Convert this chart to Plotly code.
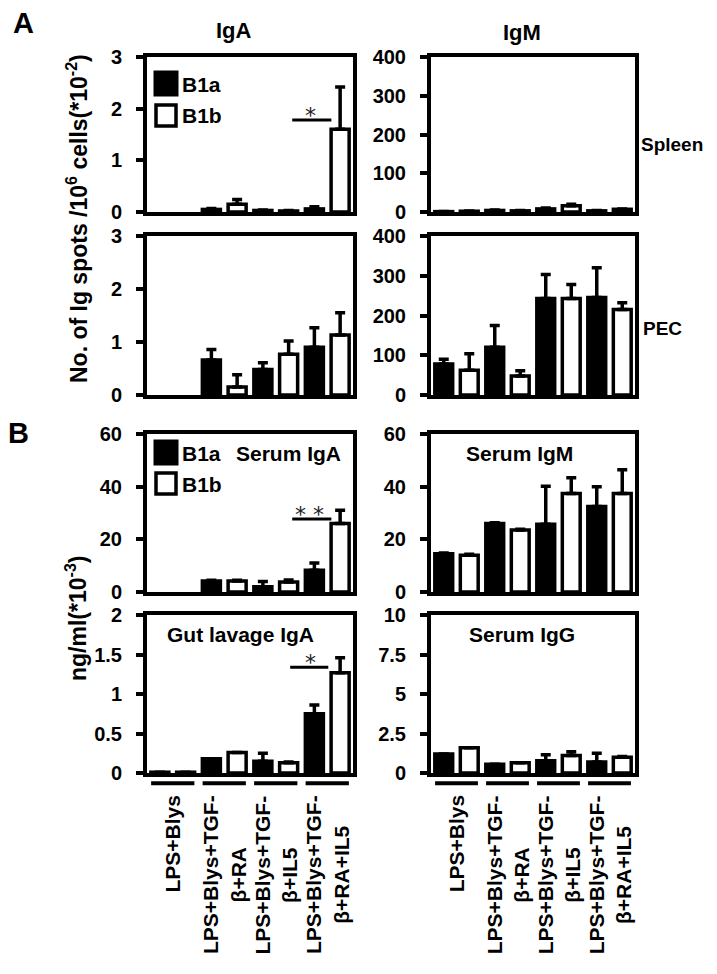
import plotly.graph_objects as go

# The page places the figure 8 px from the top-left corner of the window,
# so the figure is sized to fit inside the 717x974 window.
OFF = 8
W, H = 717 - 2 * OFF, 974 - 2 * OFF

# ---------------- data ----------------
groups = ["LPS+Blys", "LPS+Blys+TGF-<br>β+RA", "LPS+Blys+TGF-<br>β+IL5", "LPS+Blys+TGF-<br>β+RA+IL5"]

iga_spleen_b1a = [None, 0.05, 0.03, 0.06]
iga_spleen_b1a_err = [0, 0.02, 0.01, 0.04]
iga_spleen_b1b = [None, 0.15, 0.02, 1.6]
iga_spleen_b1b_err = [0, 0.09, 0.01, 0.82]

igm_spleen_b1a = [1, 4, 8, 3]
igm_spleen_b1a_err = [0.5, 1, 2, 1]
igm_spleen_b1b = [2, 3, 16, 7]
igm_spleen_b1b_err = [0.5, 1, 4, 1]

iga_pec_b1a = [None, 0.66, 0.48, 0.9]
iga_pec_b1a_err = [0, 0.2, 0.13, 0.37]
iga_pec_b1b = [None, 0.15, 0.77, 1.13]
iga_pec_b1b_err = [0, 0.23, 0.25, 0.42]

igm_pec_b1a = [78, 120, 243, 245]
igm_pec_b1a_err = [12, 55, 60, 75]
igm_pec_b1b = [62, 48, 243, 215]
igm_pec_b1b_err = [42, 13, 35, 17]

serum_iga_b1a = [None, 4.2, 2.0, 8.3]
serum_iga_b1a_err = [0, 0.3, 2.0, 2.7]
serum_iga_b1b = [None, 4.2, 3.8, 26]
serum_iga_b1b_err = [0, 0.3, 0.8, 5]

serum_igm_b1a = [14.5, 26, 25.7, 32.5]
serum_igm_b1a_err = [0.3, 0.3, 14.5, 7.5]
serum_igm_b1b = [14, 23.5, 37.4, 37.4]
serum_igm_b1b_err = [0.3, 0.3, 6, 9]

gut_iga_b1a = [0.01, 0.18, 0.15, 0.75]
gut_iga_b1a_err = [0, 0, 0.1, 0.11]
gut_iga_b1b = [0.01, 0.26, 0.13, 1.27]
gut_iga_b1b_err = [0, 0, 0.01, 0.19]

serum_igg_b1a = [1.2, 0.55, 0.78, 0.7]
serum_igg_b1a_err = [0, 0, 0.37, 0.55]
serum_igg_b1b = [1.6, 0.65, 1.1, 1.0]
serum_igg_b1b_err = [0, 0, 0.25, 0.05]

iga_ticks = [0, 1, 2, 3]
igm_ticks = [0, 100, 200, 300, 400]
serum_ticks = [0, 20, 40, 60]
gut_ticks = [0, 0.5, 1, 1.5, 2]
igg_ticks = [0, 2.5, 5, 7.5, 10]

# ---------------- layout helpers (window pixel -> paper fraction) ----------------
def px(x):
    return (x - OFF) / W

def py(y):
    return 1 - (y - OFF) / H

FONT = "Liberation Sans, Arial, sans-serif"
LW = 4

col_x = [(147, 353), (431, 635)]
row_y = [(57, 212), (236, 395), (434, 592), (615, 773)]

panels = [
    (iga_spleen_b1a, iga_spleen_b1a_err, iga_spleen_b1b, iga_spleen_b1b_err, iga_ticks, 0, 0),
    (igm_spleen_b1a, igm_spleen_b1a_err, igm_spleen_b1b, igm_spleen_b1b_err, igm_ticks, 0, 1),
    (iga_pec_b1a, iga_pec_b1a_err, iga_pec_b1b, iga_pec_b1b_err, iga_ticks, 1, 0),
    (igm_pec_b1a, igm_pec_b1a_err, igm_pec_b1b, igm_pec_b1b_err, igm_ticks, 1, 1),
    (serum_iga_b1a, serum_iga_b1a_err, serum_iga_b1b, serum_iga_b1b_err, serum_ticks, 2, 0),
    (serum_igm_b1a, serum_igm_b1a_err, serum_igm_b1b, serum_igm_b1b_err, serum_ticks, 2, 1),
    (gut_iga_b1a, gut_iga_b1a_err, gut_iga_b1b, gut_iga_b1b_err, gut_ticks, 3, 0),
    (serum_igg_b1a, serum_igg_b1a_err, serum_igg_b1b, serum_igg_b1b_err, igg_ticks, 3, 1),
]

fig = go.Figure()
layout = dict(
    template="none",
    width=W, height=H, margin=dict(l=0, r=0, t=0, b=0, pad=0, autoexpand=False),
    paper_bgcolor="white", plot_bgcolor="white",
    barmode="group", bargap=0.0, bargroupgap=0.3,
    showlegend=False, font=dict(family=FONT, color="black"),
)

for i, (a, ae, b, be, ticks, r, c) in enumerate(panels):
    s = "" if i == 0 else str(i + 1)
    xa, ya = "x" + s, "y" + s
    for vals, errs, fill in ((a, ae, "black"), (b, be, "white")):
        fig.add_trace(go.Bar(
            x=groups, y=vals, xaxis=xa, yaxis=ya,
            marker=dict(color=fill, line=dict(color="black", width=3.5)),
            error_y=dict(type="data", symmetric=False, array=errs,
                         arrayminus=[0] * len(errs), color="black",
                         thickness=3.5, width=5),
        ))
    x0, x1 = col_x[c]
    y0, y1 = row_y[r]
    layout["xaxis" + s] = dict(
        domain=[px(x0), px(x1)], anchor=ya, range=[-0.5, 3.5], automargin=False,
        showline=True, linewidth=LW, linecolor="black", mirror=True,
        showticklabels=False, ticks="", showgrid=False, zeroline=False,
    )
    layout["yaxis" + s] = dict(
        domain=[py(y1), py(y0)], anchor=xa, range=[ticks[0], ticks[-1]], automargin=False,
        tickvals=ticks, ticks="outside", ticklen=7, tickwidth=3.5,
        tickcolor="black", showline=True, linewidth=LW, linecolor="black",
        mirror=True, showgrid=False, zeroline=False, ticklabelstandoff=10,
        tickfont=dict(family=FONT, size=20, color="black", weight="bold"),
    )

fig.update_layout(**layout)

shapes = []
ann = []

def text(x, y, t, size=20, bold=True, xanchor="center", yanchor="middle", angle=0, color="black"):
    ann.append(dict(x=px(x), y=py(y), xref="paper", yref="paper", text=t,
                    showarrow=False, xanchor=xanchor, yanchor=yanchor, textangle=angle,
                    borderpad=0, borderwidth=0,
                    font=dict(family=FONT, size=size, color=color,
                              weight="bold" if bold else "normal")))

# panel letters and titles
text(13, 23, "A", size=29, xanchor="left")
text(8, 433, "B", size=29, xanchor="left")
text(234, 30, "IgA", size=22)
text(522, 32, "IgM", size=22)
text(641, 145, "Spleen", size=19, xanchor="left")
text(643, 328, "PEC", size=19, xanchor="left")
text(288, 453, "Serum IgA", size=21)
text(519, 453, "Serum IgM", size=21)
text(240, 634, "Gut lavage IgA", size=21)
text(522, 634, "Serum IgG", size=21)
text(77, 219, "No. of Ig spots /10<sup>6</sup> cells(*10<sup>-2</sup>)", size=23, angle=-90)
text(76, 618, "ng/ml(*10<sup>-3</sup>)", size=23, angle=-90)

# manual legends
for (ya_, yb_) in ((72, 105), (441, 473)):
    shapes.append(dict(type="rect", xref="paper", yref="paper", x0=px(155), x1=px(177),
                       y0=py(ya_ + 23), y1=py(ya_), fillcolor="black",
                       line=dict(color="black", width=3)))
    shapes.append(dict(type="rect", xref="paper", yref="paper", x0=px(156), x1=px(176),
                       y0=py(yb_ + 21), y1=py(yb_), fillcolor="white",
                       line=dict(color="black", width=3.5)))
    text(182, ya_ + 12, "B1a", size=21, xanchor="left")
    text(182, yb_ + 11, "B1b", size=21, xanchor="left")

# significance markers
for xa, ya, xl0, xl1, yv, star, xs in (("x", "y", 2.32, 3.08, 1.78, "*", 2.68),
                                       ("x5", "y5", 2.32, 3.08, 27.7, "* *", 2.65),
                                       ("x7", "y7", 2.28, 3.02, 1.34, "*", 2.67)):
    shapes.append(dict(type="line", xref=xa, yref=ya, x0=xl0, x1=xl1, y0=yv, y1=yv,
                       line=dict(color="black", width=3)))
    ann.append(dict(x=xs, y=yv, xref=xa, yref=ya, text=star, showarrow=False,
                    xanchor="center", yanchor="bottom", yshift=-10,
                    font=dict(family="DejaVu Sans, sans-serif", size=22, color="#222222")))

# group underlines and rotated category labels
for xa, ya in (("x7", "y7"), ("x8", "y8")):
    for gi, g in enumerate(groups):
        shapes.append(dict(type="line", xref=xa, yref=ya + " domain",
                           x0=gi - 0.42, x1=gi + 0.42, y0=-0.065, y1=-0.065,
                           line=dict(color="black", width=4)))
        ann.append(dict(x=g, y=-0.135, xref=xa, yref=ya + " domain", text=g,
                        showarrow=False, textangle=-90, xanchor="center",
                        yanchor="top", align="center", borderpad=0,
                        font=dict(family=FONT, size=21, color="black", weight="bold")))

fig.update_layout(shapes=shapes, annotations=ann)
fig.write_html("out.html")
